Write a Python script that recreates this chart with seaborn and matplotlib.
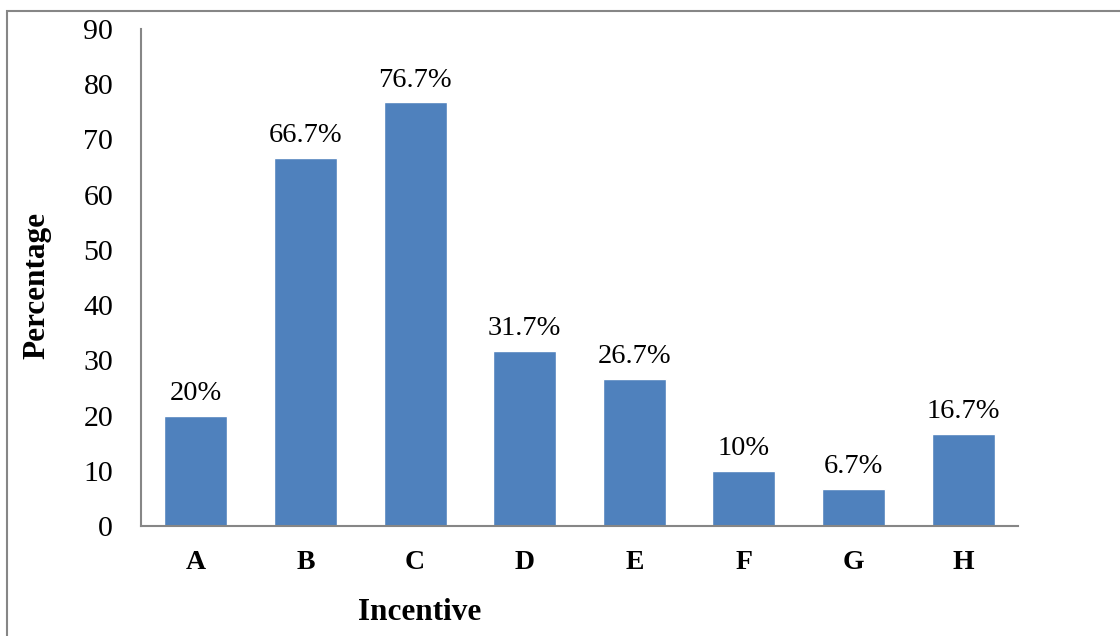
import matplotlib
matplotlib.use("Agg")
import matplotlib.pyplot as plt
import seaborn as sns
import pandas as pd
from matplotlib.patches import Rectangle

# Data
incentives = ["A", "B", "C", "D", "E", "F", "G", "H"]
percentages = [20, 66.7, 76.7, 31.7, 26.7, 10, 6.7, 16.7]
bar_labels = ["20%", "66.7%", "76.7%", "31.7%", "26.7%", "10%", "6.7%", "16.7%"]

df = pd.DataFrame({"Incentive": incentives, "Percentage": percentages})

sns.set_style("white")
plt.rcParams['font.family'] = ['Liberation Serif', 'DejaVu Serif']
plt.rcParams['text.color'] = 'black'
plt.rcParams['axes.labelcolor'] = 'black'
plt.rcParams['xtick.color'] = 'black'
plt.rcParams['ytick.color'] = 'black'

fig = plt.figure(figsize=(11.2, 6.36), dpi=100)
ax = fig.add_axes([141 / 1120, 1 - 526 / 636, (1018 - 141) / 1120, (526 - 29) / 636])

sns.barplot(data=df, x="Incentive", y="Percentage", color="#4F81BD",
            saturation=1, width=0.575, ax=ax)

ax.set_ylim(0, 90)
ax.set_yticks(range(0, 91, 10))
ax.set_xlim(-0.5, len(incentives) - 0.5)

for i, (v, lab) in enumerate(zip(percentages, bar_labels)):
    ax.annotate(lab, (i, v), xytext=(0, 7), textcoords="offset points",
                ha="center", va="bottom", fontsize=20.5, color="black")

for side in ["top", "right"]:
    ax.spines[side].set_visible(False)
for side in ["left", "bottom"]:
    ax.spines[side].set_color("#868686")
    ax.spines[side].set_linewidth(1.5)

ax.tick_params(axis="y", length=0, pad=20, labelsize=21.5)
ax.tick_params(axis="x", length=0, pad=17, labelsize=20)
for t in ax.get_xticklabels():
    t.set_fontweight("bold")

ax.set_xlabel("Incentive", fontsize=22.5, fontweight="bold")
ax.set_ylabel("Percentage", fontsize=22.5, fontweight="bold")
ax.xaxis.set_label_coords(0.318, -0.145)
ax.yaxis.set_label_coords(-0.102, 0.483)

# outer frame
fig.patches.append(Rectangle((7 / 1120, -0.05), 1.1, 1 - 11 / 636 + 0.05,
                             transform=fig.transFigure, fill=False,
                             edgecolor="#868686", linewidth=1.5))

fig.savefig("out.png", dpi=100)
